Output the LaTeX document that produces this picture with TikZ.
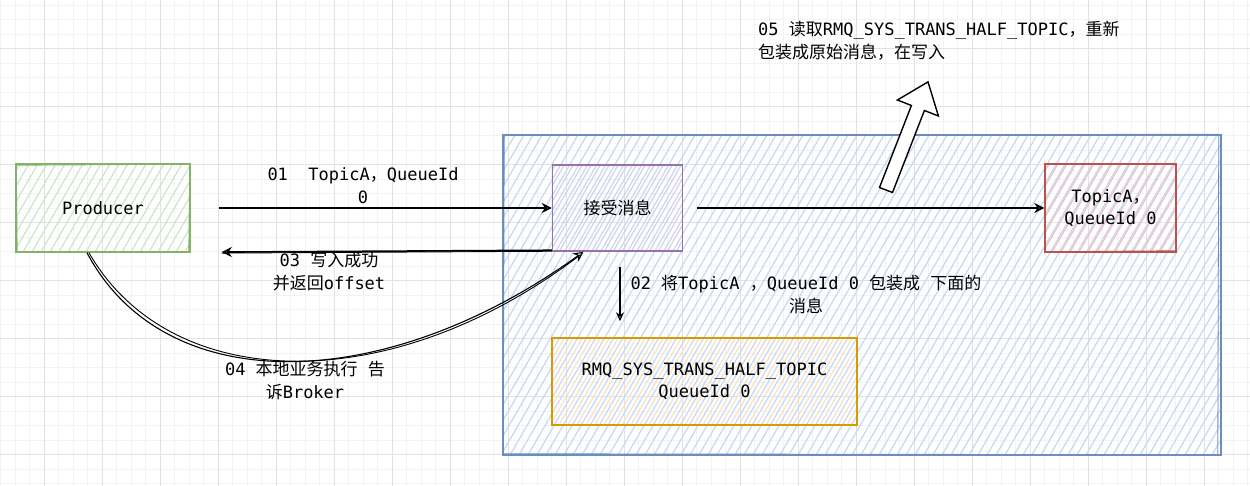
\documentclass[tikz,border=0pt]{standalone}
\usepackage{fontspec}
\setmainfont{DejaVu Sans Mono}
\newfontfamily\cjkfont{Noto Sans CJK SC}
\newcommand\cj[1]{{\cjkfont #1}}
\usetikzlibrary{arrows.meta,calc}
\definecolor{gridminor}{HTML}{F3F3F3}
\definecolor{gridmajor}{HTML}{E2E2E2}
\definecolor{gstroke}{HTML}{82B366}
\definecolor{gfill}{HTML}{CDE6C9}
\definecolor{bstroke}{HTML}{6C8EBF}
\definecolor{bfill}{HTML}{C4D9F7}
\definecolor{pstroke}{HTML}{9673A6}
\definecolor{pfill}{HTML}{DBCDE6}
\definecolor{rstroke}{HTML}{B85450}
\definecolor{rfill}{HTML}{F4C0BE}
\definecolor{ostroke}{HTML}{D79B00}
\definecolor{ofill}{HTML}{FBE0C0}
\begin{document}
\begin{tikzpicture}[x=1pt,y=-1pt,
  txt/.style={font=\fontsize{17}{23}\selectfont, align=center, inner sep=0pt, text=black},
  hbox/.style 2 args={draw=#1, line width=1.5pt, inner sep=0pt,
    font=\fontsize{17}{22}\selectfont, align=center,
    path picture={
      \foreach \i in {-200,-191,...,730} {
        \draw[#2, line width=1.2pt] ([xshift=\i pt]path picture bounding box.south west) -- ++(200pt,346pt);
      }
    }},
  arr/.style={-{Stealth[open,length=10pt,width=10pt]}, line width=1.6pt},
  arrthin/.style={-{Stealth[open,length=9pt,width=8pt]}, line width=1.2pt}
]
\useasboundingbox (0,0) rectangle (1250,486);
\fill[white] (0,0) rectangle (1250,486);
% grid
\foreach \x in {0.8,15.3,...,1250} \draw[gridminor, line width=0.8pt] (\x,0) -- (\x,486);
\foreach \y in {5.2,19.7,...,486} \draw[gridminor, line width=0.8pt] (0,\y) -- (1250,\y);
\foreach \x in {44.3,102.3,...,1250} \draw[gridmajor, line width=1pt] (\x,0) -- (\x,486);
\foreach \y in {48.7,106.7,...,486} \draw[gridmajor, line width=1pt] (0,\y) -- (1250,\y);

% container
\node[hbox={bstroke}{bfill}, minimum width=718pt, minimum height=320pt] (broker) at (862,295) {};
% boxes
\node[hbox={gstroke}{gfill}, minimum width=174pt, minimum height=88pt] (prod) at (103,208) {Producer};
\node[hbox={pstroke}{pfill}, minimum width=130pt, minimum height=86pt] (recv) at (617.5,208) {\cj{接受消息}};
\node[hbox={rstroke}{rfill}, minimum width=131pt, minimum height=88pt] (topic) at (1110.5,208) {TopicA\cj{，}\\QueueId 0};
\node[hbox={ostroke}{ofill}, minimum width=305pt, minimum height=87pt] (rmq) at (704.5,381.5) {RMQ\_SYS\_TRANS\_HALF\_TOPIC\\QueueId 0};

% sketchy second strokes
\draw[bstroke, line width=0.8pt] ([shift={(2,1)}]broker.north west) -- ([shift={(-3,0)}]broker.north east) -- ([shift={(-4,-1)}]broker.south east) -- ([shift={(1,-2)}]broker.south west) -- cycle;
\draw[gstroke, line width=0.8pt] ([shift={(1,2)}]prod.north west) -- ([shift={(-1,1)}]prod.north east) -- ([shift={(-2,-1)}]prod.south east) -- ([shift={(2,-1)}]prod.south west) -- cycle;
\draw[rstroke, line width=0.8pt] ([shift={(1,1)}]topic.north west) -- ([shift={(-1,1)}]topic.north east) -- ([shift={(-1,-2)}]topic.south east) -- ([shift={(1,-1)}]topic.south west) -- cycle;

% connectors
\draw[arr, shorten <=28pt] (prod.east) -- (recv.west);
\draw[arr, shorten <=14pt] (recv.east) -- (topic.west);
\draw[arr, shorten >=31pt] ([yshift=1.5pt]recv.south west) -- ([yshift=0.5pt]prod.south east);
\draw[line width=0.9pt, shorten >=31pt] ([yshift=0.5pt]recv.south west) -- ([yshift=-0.5pt]prod.south east);
\draw[arrthin, shorten <=15pt, shorten >=16pt] ([xshift=2.5pt]recv.south) -- ([xshift=2.5pt]recv.south |- rmq.north);
\draw[arr, line width=1.1pt] ([xshift=-16pt]prod.south) .. controls (165,400) and (385,395) .. ([xshift=-34pt]recv.south);
\draw[line width=0.9pt] ([xshift=-14pt]prod.south) .. controls (170,394) and (390,400) .. ([xshift=-37pt,yshift=-3pt]recv.south);

% hollow arrow 05
\draw[line width=1.4pt, fill=white, line join=miter] (879.5,187.5) -- (911.4,105.5) -- (897.4,100.0) -- (928.0,81.9) -- (938.4,116.0) -- (924.4,110.5) -- (892.5,192.5) -- cycle;

% labels
\node[txt] (l01) at (363,185.5) {01\ \ TopicA\cj{，}QueueId\\0};
\node[txt] (l03) at (329,272) {03 \cj{写入成功}\\\cj{并返回}offset};
\node[txt] (l04) at (305,381) {04 \cj{本地业务执行} \cj{告}\\\cj{诉}Broker};
\node[txt] (l02) at (806,294) {02 \cj{将}TopicA \cj{，}QueueId 0 \cj{包装成} \cj{下面的}\\\cj{消息}};
\node[txt, align=left, anchor=west] (l05) at (758,40.5) {05 \cj{读取}RMQ\_SYS\_TRANS\_HALF\_TOPIC\cj{，重新}\\\cj{包装成原始消息，在写入}};
\end{tikzpicture}
\end{document}
